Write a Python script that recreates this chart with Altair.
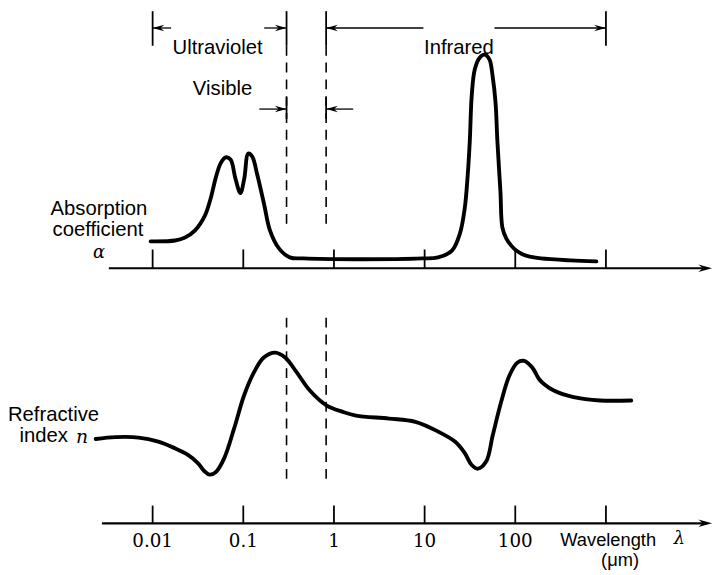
import altair as alt
import pandas as pd

# ---------------- data ----------------
# Absorption coefficient alpha (arbitrary units, IR peak = 1) vs wavelength (um)
abs_lam = [0.0095, 0.0177, 0.0228, 0.0292, 0.0376, 0.0438, 0.0495, 0.0562, 0.0637,
           0.0723, 0.0818, 0.0929, 0.1026, 0.1135, 0.1256, 0.1422, 0.1694, 0.1972,
           0.2472, 0.326, 0.4634, 1.754, 9.419, 14.09, 20.04, 24.49, 27.73, 29.92,
           31.48, 33.11, 35.73, 40.46, 45.92, 52.00, 56.10, 60.53, 63.53, 68.55,
           72.11, 79.7, 90.36, 102.5, 125.3, 149.3, 191.9, 407.4, 783.4]
abs_alpha = [0.126, 0.130, 0.144, 0.176, 0.245, 0.329, 0.421, 0.491, 0.519,
             0.509, 0.421, 0.352, 0.421, 0.537, 0.523, 0.440, 0.301, 0.176,
             0.093, 0.051, 0.046, 0.042, 0.046, 0.051, 0.083, 0.162, 0.282, 0.440,
             0.593, 0.810, 0.931, 0.986, 1.000, 0.977, 0.903, 0.778, 0.593, 0.361,
             0.190, 0.139, 0.106, 0.083, 0.062, 0.053, 0.046, 0.037, 0.032]

# Refractive index n (schematic units) vs wavelength (um)
n_lam = [0.002355, 0.003891, 0.006982, 0.01155, 0.01757, 0.02453, 0.03153, 0.03731,
         0.04229, 0.04992, 0.06167, 0.07925, 0.1019, 0.1310, 0.1683, 0.2253, 0.2896,
         0.3885, 0.5427, 0.8252, 1.255, 1.753, 4.045, 7.908, 14.20, 21.60, 27.76,
         32.85, 38.77, 47.87, 56.51, 69.79, 85.96, 105.9, 125.3, 148.2, 161.0, 182.6,
         207.0, 266.1, 439.7, 859.7, 1901]
n_val = [1.493, 1.512, 1.508, 1.467, 1.40, 1.333, 1.25, 1.167,
         1.133, 1.16, 1.30, 1.60, 1.933, 2.167, 2.317, 2.367, 2.317,
         2.167, 1.983, 1.833, 1.767, 1.73, 1.70, 1.667, 1.567, 1.467, 1.35,
         1.233, 1.193, 1.267, 1.533, 1.867, 2.133, 2.267, 2.283, 2.233, 2.19, 2.10,
         2.05, 1.983, 1.917, 1.883, 1.883]

tick_values = [0.01, 0.1, 1, 10, 100, 1000]
tick_labels = ["0.01", "0.1", "1", "10", "100"]
uv_band = [0.01, 0.3]
ir_band = [0.82, 1000]
visible_edges = [0.3, 0.82]

# ---------------- layout / scales ----------------
W, H = 713, 567
PX_DEC = 91.69          # pixels per decade
X_1UM = 329.65          # pixel position of 1 um inside the plot
lam_lo = 10 ** (-X_1UM / PX_DEC)
lam_hi = 10 ** ((W - X_1UM) / PX_DEC)
xs = alt.Scale(type="log", domain=[lam_lo, lam_hi], nice=False)

A_PX, A_ZERO = 216, 260
ys_abs = alt.Scale(domain=[(A_ZERO - H) / A_PX, A_ZERO / A_PX], nice=False, zero=False)
N_PX, N_REFY, N_REF = 100, 432, 1.5
ys_n = alt.Scale(domain=[N_REF + (N_REFY - H) / N_PX, N_REF + N_REFY / N_PX],
                 nice=False, zero=False)

SANS = "Liberation Sans"
SERIF = "DejaVu Serif"
LBL = 20.5
one = pd.DataFrame({"k": [0]})

ARROW_R = "M0,0L-2,-0.55L-1.35,0L-2,0.55Z"
ARROW_L = "M0,0L2,-0.55L1.35,0L2,0.55Z"


def X(field="lam"):
    return alt.X(f"{field}:Q", scale=xs, axis=None)


def hrule(x1, x2, y, w=2.0):
    return alt.Chart(one).mark_rule(color="black", strokeWidth=w).encode(
        x=alt.value(x1), x2=alt.value(x2), y=alt.value(y))


def label(text, x, y, size=LBL, font=SANS, style="normal", align="center"):
    return alt.Chart(one).mark_text(
        text=text, font=font, fontSize=size, fontStyle=style, align=align,
        baseline="middle", color="black").encode(x=alt.value(x), y=alt.value(y))


def vrules(values, y1, y2, w=1.6, dash=None):
    kw = dict(color="black", strokeWidth=w)
    if dash:
        kw["strokeDash"] = dash
    return alt.Chart(pd.DataFrame({"lam": values})).mark_rule(**kw).encode(
        x=X(), y=alt.value(y1), y2=alt.value(y2))


def heads(values, y, shape, size=140):
    return alt.Chart(pd.DataFrame({"lam": values})).mark_point(
        shape=shape, filled=True, size=size, color="black", opacity=1,
        strokeWidth=0).encode(x=X(), y=alt.value(y))


def axis_head(x, y):
    return alt.Chart(one).mark_point(
        shape=ARROW_R, filled=True, size=190, color="black", opacity=1,
        strokeWidth=0).encode(x=alt.value(x), y=alt.value(y))


# ---------------- curves ----------------
abs_line = alt.Chart(pd.DataFrame({"lam": abs_lam, "alpha": abs_alpha})).mark_line(
    color="black", strokeWidth=3.9, interpolate="catmull-rom", strokeCap="round",
    strokeJoin="round"
).encode(x=X(), y=alt.Y("alpha:Q", scale=ys_abs, axis=None))

n_line = alt.Chart(pd.DataFrame({"lam": n_lam, "n": n_val})).mark_line(
    color="black", strokeWidth=3.9, interpolate="catmull-rom", strokeCap="round",
    strokeJoin="round"
).encode(x=X(), y=alt.Y("n:Q", scale=ys_n, axis=None))

# ---------------- wavelength axes ----------------
top_axis = hrule(102, 706, 260, 2.2)
bot_axis = hrule(95, 706, 518, 2.2)
top_ticks = vrules(tick_values, 241, 260, 1.8)
bot_ticks = vrules(tick_values, 500, 518, 1.8)
tick_text = alt.Chart(pd.DataFrame({"lam": tick_values[:5], "label": tick_labels})).mark_text(
    font=SERIF, fontSize=18.5, baseline="middle", color="black"
).encode(x=X(), y=alt.value(536), text="label:N")

# ---------------- spectral region annotations ----------------
dash_top = vrules(visible_edges, 35, 219, 1.6, [10, 7])
dash_bot = vrules(visible_edges, 310, 475, 1.6, [10, 7])
band_bars = vrules([uv_band[0], uv_band[1], ir_band[0], ir_band[1]], 0, 35, 1.8)
vis_bars = vrules(visible_edges, 87, 109, 1.8)

seg = pd.DataFrame({"x0": [uv_band[0], 0.17, ir_band[0], 59],
                    "x1": [0.016, uv_band[1], 9.7, ir_band[1]]})
band_lines = alt.Chart(seg).mark_rule(color="black", strokeWidth=1.3).encode(
    x=X("x0"), x2="x1:Q", y=alt.value(17))
vseg = pd.DataFrame({"x0": [0.15, visible_edges[1]], "x1": [visible_edges[0], 1.63]})
vis_lines = alt.Chart(vseg).mark_rule(color="black", strokeWidth=1.3).encode(
    x=X("x0"), x2="x1:Q", y=alt.value(99))

band_text = alt.Chart(pd.DataFrame({"lam": [0.0521, 23.9, 0.059],
                                    "t": ["Ultraviolet", "Infrared", "Visible"],
                                    "row": ["a", "a", "b"]})).mark_text(
    font=SANS, fontSize=LBL, baseline="middle", color="black"
).encode(x=X(), y=alt.Y("row:N", scale=alt.Scale(domain=["a", "b"], range=[17, 99]),
                        axis=None), text="t:N")

layers = [
    abs_line, n_line,
    top_axis, bot_axis, top_ticks, bot_ticks, tick_text,
    axis_head(712, 260), axis_head(712, 518),
    dash_top, dash_bot, band_bars, vis_bars, band_lines, vis_lines,
    heads([uv_band[1], ir_band[1]], 17, ARROW_R),
    heads([uv_band[0], ir_band[0]], 17, ARROW_L),
    heads([visible_edges[0]], 99, ARROW_R),
    heads([visible_edges[1]], 99, ARROW_L),
    band_text,
    label("Absorption", 92, 200),
    label("coefficient", 91, 221),
    label("α", 92, 245, 18, SERIF, "italic"),
    label("Refractive", 46, 408),
    label("index", 36, 430),
    label("n", 75, 431, 19, SERIF, "italic"),
    label("Wavelength", 607, 535, 18.5),
    label("λ", 679, 534, 18, SERIF, "italic"),
    label("(μm)", 619, 555, 18.5),
]

chart = alt.layer(*layers).resolve_scale(y="independent").properties(
    width=W, height=H, padding=0,
    autosize=alt.AutoSizeParams(type="none"),
    background="white",
).configure_view(strokeWidth=0)

chart.save("out.html", embed_options={"renderer": "svg", "actions": False})
